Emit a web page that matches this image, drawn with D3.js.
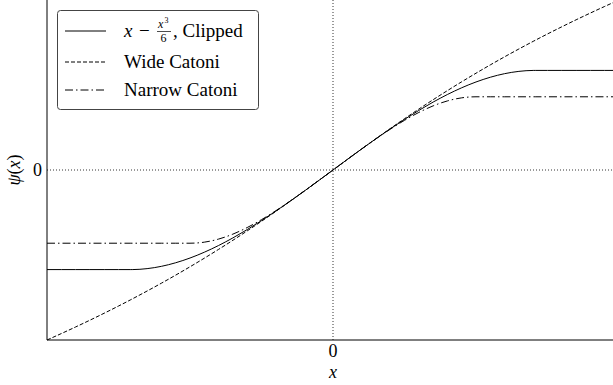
<!DOCTYPE html>
<html>
<head>
<meta charset="utf-8">
<script src="https://cdn.jsdelivr.net/npm/d3@7"></script>
<style>
  body { margin: 0; background: #fff; }
  text { font-family: 'Liberation Serif', 'Times New Roman', serif; }
</style>
</head>
<body>
<svg id="chart" width="613" height="385"></svg>
<script>
// x grid the curves were read at
const xs = [-2.0, -1.9, -1.8, -1.7, -1.6, -1.5, -1.414, -1.4, -1.3, -1.2, -1.1, -1.0, -0.9, -0.8, -0.7, -0.6, -0.5, -0.4, -0.3, -0.2, -0.1,
  0.0, 0.1, 0.2, 0.3, 0.4, 0.5, 0.6, 0.7, 0.8, 0.9, 1.0, 1.1, 1.2, 1.3, 1.4, 1.414, 1.5, 1.6, 1.7, 1.8, 1.9, 2.0];

// x - x^3/6, clipped
const clipped = [-0.9428, -0.9428, -0.9428, -0.9428, -0.9428, -0.9428, -0.9428, -0.9427, -0.9338, -0.912, -0.8782, -0.8333, -0.7785, -0.7147, -0.6428, -0.564, -0.4792, -0.3893, -0.2955, -0.1987, -0.0998,
  0.0, 0.0998, 0.1987, 0.2955, 0.3893, 0.4792, 0.564, 0.6428, 0.7147, 0.7785, 0.8333, 0.8782, 0.912, 0.9338, 0.9427, 0.9428, 0.9428, 0.9428, 0.9428, 0.9428, 0.9428, 0.9428];

// wide Catoni
const wide = [-1.6094, -1.5486, -1.4861, -1.4219, -1.3558, -1.2879, -1.2278, -1.2179, -1.1458, -1.0716, -0.9951, -0.9163, -0.8351, -0.7514, -0.6653, -0.5766, -0.4855, -0.392, -0.2964, -0.1989, -0.0999,
  0.0, 0.0999, 0.1989, 0.2964, 0.392, 0.4855, 0.5766, 0.6653, 0.7514, 0.8351, 0.9163, 0.9951, 1.0716, 1.1458, 1.2179, 1.2278, 1.2879, 1.3558, 1.4219, 1.4861, 1.5486, 1.6094];

// narrow Catoni
const narrow = [-0.6931, -0.6931, -0.6931, -0.6931, -0.6931, -0.6931, -0.6931, -0.6931, -0.6931, -0.6931, -0.6931, -0.6931, -0.6832, -0.6539, -0.607, -0.5447, -0.47, -0.3857, -0.2944, -0.1985, -0.0998,
  0.0, 0.0998, 0.1985, 0.2944, 0.3857, 0.47, 0.5447, 0.607, 0.6539, 0.6832, 0.6931, 0.6931, 0.6931, 0.6931, 0.6931, 0.6931, 0.6931, 0.6931, 0.6931, 0.6931, 0.6931, 0.6931];

const seriesNames = ["Wide Catoni", "Narrow Catoni"];
const xTicks = [0];
const yTicks = [0];

const svg = d3.select('#chart');

const margin = { top: 0, right: -6, bottom: 45, left: 47 },
  width = 613 - margin.left - margin.right,
  height = 385 - margin.top - margin.bottom;

const x = d3.scaleLinear().domain([-2, 2]).range([0, width]);
const y = d3.scaleLinear().domain([-1.6094, 1.6094]).range([height, 0]);

const g = svg.append('g').attr('transform', `translate(${margin.left},${margin.top})`);

// zero lines
g.append('line')
  .attr('x1', x(0)).attr('x2', x(0)).attr('y1', 0).attr('y2', height)
  .attr('stroke', '#000').attr('stroke-width', 0.8).attr('stroke-dasharray', '1,2');
g.append('line')
  .attr('x1', 0).attr('x2', width).attr('y1', y(0)).attr('y2', y(0))
  .attr('stroke', '#000').attr('stroke-width', 0.8).attr('stroke-dasharray', '1,2');

const line = vals => d3.line()
  .x((d, i) => x(xs[i]))
  .y(d => y(d))
  .curve(d3.curveMonotoneX)(vals);

const styles = [
  { vals: clipped, dash: null },
  { vals: wide, dash: '4,2' },
  { vals: narrow, dash: '8,3,1.5,3' }
];

g.selectAll('.curve')
  .data(styles)
  .enter().append('path')
  .attr('class', 'curve')
  .attr('d', d => line(d.vals))
  .attr('fill', 'none')
  .attr('stroke', '#000')
  .attr('stroke-width', 1)
  .attr('stroke-dasharray', d => d.dash);

// spines
g.append('line').attr('x1', 0).attr('x2', 0).attr('y1', 0).attr('y2', height)
  .attr('stroke', '#000').attr('stroke-width', 1);
g.append('line').attr('x1', 0).attr('x2', width).attr('y1', height).attr('y2', height)
  .attr('stroke', '#000').attr('stroke-width', 1);

// tick labels
g.selectAll('.xt').data(xTicks).enter().append('text')
  .attr('x', d => x(d)).attr('y', height + 17)
  .attr('text-anchor', 'middle').attr('font-size', 18).text(d => d);
g.selectAll('.yt').data(yTicks).enter().append('text')
  .attr('x', -5).attr('y', d => y(d) + 6)
  .attr('text-anchor', 'end').attr('font-size', 18).text(d => d);

// axis labels
g.append('text').attr('x', x(0)).attr('y', height + 38)
  .attr('text-anchor', 'middle').attr('font-size', 18).attr('font-style', 'italic').text('x');
svg.append('text')
  .attr('transform', `translate(20,${margin.top + y(0)}) rotate(-90)`)
  .attr('text-anchor', 'middle').attr('font-size', 18)
  .html('<tspan font-style="italic">ψ</tspan><tspan>(</tspan><tspan font-style="italic">x</tspan><tspan>)</tspan>');

// legend
const lg = svg.append('g');
lg.append('rect')
  .attr('x', 57.5).attr('y', 10.5).attr('width', 201).attr('height', 99)
  .attr('rx', 3).attr('fill', '#fff').attr('stroke', '#444').attr('stroke-width', 1);

const rowsY = [31, 62, 90];
styles.forEach((s, i) => {
  lg.append('line')
    .attr('x1', 65).attr('x2', 106).attr('y1', rowsY[i]).attr('y2', rowsY[i])
    .attr('stroke', '#000').attr('stroke-width', 1)
    .attr('stroke-dasharray', s.dash);
});

// first entry: x - x^3/6, Clipped
const t0 = lg.append('g');
t0.append('text').attr('x', 124).attr('y', rowsY[0] + 6).attr('font-size', 19).attr('font-style', 'italic').text('x');
t0.append('text').attr('x', 139).attr('y', rowsY[0] + 6).attr('font-size', 19).text('−');
t0.append('text').attr('x', 158).attr('y', rowsY[0] - 3).attr('font-size', 12).attr('font-style', 'italic').text('x');
t0.append('text').attr('x', 164.5).attr('y', rowsY[0] - 8).attr('font-size', 8).text('3');
t0.append('line').attr('x1', 157).attr('x2', 171).attr('y1', rowsY[0] + 0.5).attr('y2', rowsY[0] + 0.5)
  .attr('stroke', '#000').attr('stroke-width', 0.7);
t0.append('text').attr('x', 160.5).attr('y', rowsY[0] + 11).attr('font-size', 12).text('6');
t0.append('text').attr('x', 173).attr('y', rowsY[0] + 6).attr('font-size', 19).text(', Clipped');

lg.selectAll('.lt').data(seriesNames).enter().append('text')
  .attr('x', 124).attr('y', (d, i) => rowsY[i + 1] + 6)
  .attr('font-size', 19).text(d => d);
</script>
</body>
</html>
